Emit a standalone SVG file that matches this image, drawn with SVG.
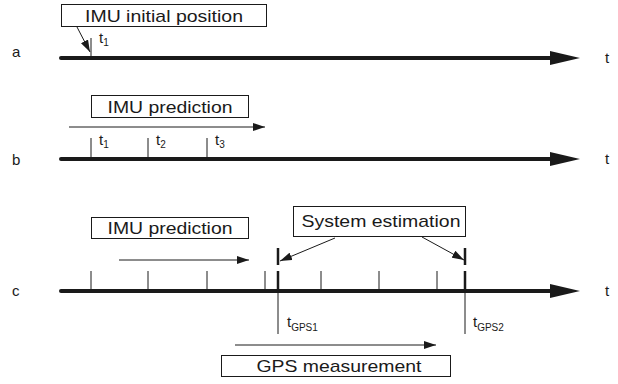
<svg xmlns="http://www.w3.org/2000/svg" width="618" height="384" viewBox="0 0 618 384">
  <style>
    .axis { stroke: #1a1a1a; stroke-width: 4; stroke-linecap: round; fill: none; }
    .head { fill: #1a1a1a; }
    .thin { stroke: #1a1a1a; stroke-width: 1; fill: none; }
    .mark { stroke: #1a1a1a; stroke-width: 2.5; fill: none; }
    .box { fill: #fff; stroke: #1a1a1a; stroke-width: 1; }
    .lbl { font-family: "Liberation Sans", Arial, sans-serif; font-size: 17px; fill: #1a1a1a; }
    .row { font-family: "Liberation Sans", Arial, sans-serif; font-size: 15px; fill: #1a1a1a; }
    .tk { font-family: "Liberation Sans", Arial, sans-serif; font-size: 15px; fill: #1a1a1a; }
    .sub { font-size: 10px; }
  </style>
  <defs>
    <marker id="arrow" viewBox="0 0 12 8" refX="12" refY="4" markerWidth="12" markerHeight="8" markerUnits="userSpaceOnUse" orient="auto">
      <path d="M0,0 L12,4 L0,8 Z" fill="#1a1a1a"/>
    </marker>
  </defs>

  <!-- row labels -->
  <text class="row" x="12" y="57">a</text>
  <text class="row" x="12" y="165">b</text>
  <text class="row" x="12" y="296">c</text>

  <!-- time axes -->
  <g id="axis-a">
    <line class="axis" x1="61" y1="58" x2="552" y2="58"/>
    <polygon class="head" points="550,51 580,58 550,65"/>
    <text class="row" x="605" y="63">t</text>
  </g>
  <g id="axis-b">
    <line class="axis" x1="61" y1="159" x2="552" y2="159"/>
    <polygon class="head" points="550,152 580,159 550,166"/>
    <text class="row" x="605" y="164">t</text>
  </g>
  <g id="axis-c">
    <line class="axis" x1="61" y1="291" x2="552" y2="291"/>
    <polygon class="head" points="550,284 580,291 550,298"/>
    <text class="row" x="605" y="296">t</text>
  </g>

  <!-- row a -->
  <g id="imu-initial-position">
    <rect class="box" x="61.5" y="4.5" width="205" height="22"/>
    <text class="lbl" x="164" y="21.5" text-anchor="middle" textLength="158" lengthAdjust="spacingAndGlyphs">IMU initial position</text>
  </g>
  <g id="ticks-a">
    <line class="thin" x1="91" y1="38" x2="91" y2="58"/>
    <text class="tk" x="99" y="43">t<tspan class="sub" dy="3">1</tspan></text>
  </g>

  <!-- row b -->
  <g id="imu-prediction-b">
    <rect class="box" x="91.5" y="95.5" width="157" height="22"/>
    <text class="lbl" x="170" y="112.5" text-anchor="middle" textLength="125" lengthAdjust="spacingAndGlyphs">IMU prediction</text>
  </g>
  <g id="ticks-b">
    <line class="thin" x1="91" y1="138" x2="91" y2="159"/>
    <line class="thin" x1="148" y1="138" x2="148" y2="159"/>
    <line class="thin" x1="207" y1="138" x2="207" y2="159"/>
    <text class="tk" x="99" y="145">t<tspan class="sub" dy="3">1</tspan></text>
    <text class="tk" x="156" y="145">t<tspan class="sub" dy="3">2</tspan></text>
    <text class="tk" x="215" y="145">t<tspan class="sub" dy="3">3</tspan></text>
  </g>

  <!-- row c -->
  <g id="imu-prediction-c">
    <rect class="box" x="91.5" y="217.5" width="157" height="21"/>
    <text class="lbl" x="170" y="234" text-anchor="middle" textLength="125" lengthAdjust="spacingAndGlyphs">IMU prediction</text>
  </g>
  <g id="system-estimation">
    <rect class="box" x="293.5" y="206.5" width="172" height="30"/>
    <text class="lbl" x="381" y="227" text-anchor="middle" textLength="159" lengthAdjust="spacingAndGlyphs">System estimation</text>
  </g>
  <g id="gps-measurement">
    <rect class="box" x="221.5" y="355.5" width="229" height="21"/>
    <text class="lbl" x="339" y="372" text-anchor="middle" textLength="165" lengthAdjust="spacingAndGlyphs">GPS measurement</text>
  </g>
  <g id="ticks-c">
    <line class="thin" x1="91" y1="271" x2="91" y2="291"/>
    <line class="thin" x1="148" y1="271" x2="148" y2="291"/>
    <line class="thin" x1="207" y1="271" x2="207" y2="291"/>
    <line class="thin" x1="265" y1="271" x2="265" y2="291"/>
    <line class="thin" x1="321" y1="271" x2="321" y2="291"/>
    <line class="thin" x1="379" y1="271" x2="379" y2="291"/>
    <line class="thin" x1="437" y1="271" x2="437" y2="291"/>
  </g>
  <g id="gps1">
    <line class="mark" x1="278" y1="248" x2="278" y2="265"/>
    <line class="mark" x1="278" y1="271" x2="278" y2="291"/>
    <line class="thin" x1="278" y1="291" x2="278" y2="334"/>
    <text class="tk" x="287" y="327">t<tspan class="sub" dy="4">GPS1</tspan></text>
  </g>
  <g id="gps2">
    <line class="mark" x1="465" y1="248" x2="465" y2="265"/>
    <line class="mark" x1="465" y1="271" x2="465" y2="291"/>
    <line class="thin" x1="465" y1="291" x2="465" y2="334"/>
    <text class="tk" x="473" y="327">t<tspan class="sub" dy="4">GPS2</tspan></text>
  </g>

  <!-- connectors -->
  <g id="connectors">
    <line class="thin" x1="77" y1="27" x2="90" y2="52" marker-end="url(#arrow)"/>
    <line class="thin" x1="69" y1="127" x2="265" y2="127" marker-end="url(#arrow)"/>
    <line class="thin" x1="119" y1="260" x2="249" y2="260" marker-end="url(#arrow)"/>
    <line class="thin" x1="335" y1="238" x2="280" y2="261" marker-end="url(#arrow)"/>
    <line class="thin" x1="422" y1="237" x2="464" y2="260" marker-end="url(#arrow)"/>
    <line class="thin" x1="235" y1="345" x2="436" y2="345" marker-end="url(#arrow)"/>
  </g>
</svg>
